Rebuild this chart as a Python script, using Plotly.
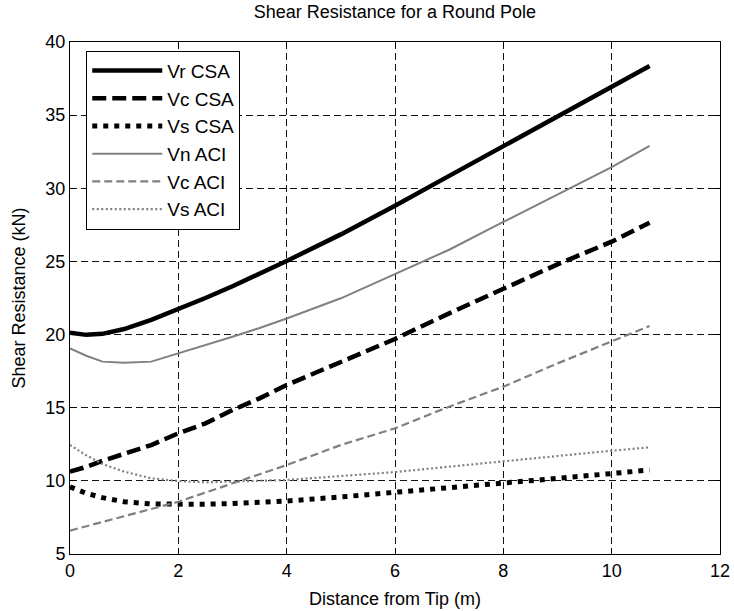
import plotly.graph_objects as go

# Distance from tip (m)
distance = [0, 0.3, 0.6, 1, 1.5, 2, 2.5, 3, 3.5, 4, 5, 6, 7, 8, 9, 10, 10.7]

vr_csa = [20.13, 19.98, 20.05, 20.38, 21.0, 21.73, 22.5, 23.3, 24.15, 25.03, 26.85, 28.8, 30.85, 32.9, 34.95, 36.95, 38.36]
vc_csa = [10.63, 10.95, 11.37, 11.88, 12.45, 13.25, 13.93, 14.84, 15.64, 16.55, 18.15, 19.7, 21.45, 23.1, 24.8, 26.35, 27.65]
vs_csa = [9.6, 9.15, 8.85, 8.57, 8.42, 8.38, 8.4, 8.45, 8.52, 8.62, 8.9, 9.2, 9.58, 9.87, 10.17, 10.5, 10.74]
vn_aci = [19.06, 18.55, 18.15, 18.08, 18.15, 18.72, 19.25, 19.85, 20.45, 21.1, 22.48, 24.15, 25.8, 27.7, 29.55, 31.45, 32.9]
vc_aci = [6.6, 6.9, 7.2, 7.55, 8.1, 8.57, 9.2, 9.83, 10.45, 11.08, 12.45, 13.59, 15.07, 16.44, 18.03, 19.51, 20.58]
vs_aci = [12.45, 11.75, 11.15, 10.63, 10.17, 9.99, 9.9, 9.94, 10.0, 10.06, 10.33, 10.6, 10.97, 11.31, 11.7, 12.06, 12.29]

series_names = ["Vr CSA", "Vc CSA", "Vs CSA", "Vn ACI", "Vc ACI", "Vs ACI"]

x_ticks = [0, 2, 4, 6, 8, 10, 12]
y_ticks = [5, 10, 15, 20, 25, 30, 35, 40]

FONT = "Liberation Sans, Arial, Helvetica, sans-serif"
GRAY = "#808080"

styles = [
    dict(color="black", width=4.5, dash="solid"),
    dict(color="black", width=4.5, dash="14px,6px"),
    dict(color="black", width=5, dash="5px,6px"),
    dict(color=GRAY, width=2, dash="solid"),
    dict(color=GRAY, width=2.2, dash="8px,4px"),
    dict(color=GRAY, width=2.2, dash="2px,2.5px"),
]

fig = go.Figure()
for name, ys, st in zip(series_names, [vr_csa, vc_csa, vs_csa, vn_aci, vc_aci, vs_aci], styles):
    fig.add_trace(go.Scatter(x=distance, y=ys, mode="lines", name=name, line=st))

axis_common = dict(
    showline=True, linecolor="black", linewidth=1, mirror="ticks",
    ticks="inside", ticklen=5, tickcolor="black", tickwidth=1,
    showgrid=True, gridcolor="#111111", gridwidth=1, griddash="7px,4px",
    zeroline=False, automargin=False,
    tickfont=dict(family=FONT, size=18, color="black"),
)

fig.update_layout(
    template="none",
    width=734, height=611,
    margin=dict(l=70, r=14, t=42, b=57),
    paper_bgcolor="white", plot_bgcolor="white",
    font=dict(family=FONT, size=18, color="black"),
    title=dict(text="Shear Resistance for a Round Pole", x=0.538, xanchor="center",
               y=0.981, yanchor="middle", font=dict(family=FONT, size=18, color="black")),
    xaxis=dict(range=[0, 12], tickvals=x_ticks,
               title=dict(text="Distance from Tip (m)", font=dict(family=FONT, size=18), standoff=12),
               **axis_common),
    yaxis=dict(range=[5, 40], tickvals=y_ticks,
               title=dict(text="Shear Resistance (kN)", font=dict(family=FONT, size=18), standoff=15),
               **axis_common),
    legend=dict(x=0.025, y=0.983, xanchor="left", yanchor="top",
                bgcolor="white", bordercolor="black", borderwidth=1,
                font=dict(family=FONT, size=19, color="black"), itemwidth=70,
                tracegroupgap=0),
    showlegend=True,
)

fig.write_html("out.html")
